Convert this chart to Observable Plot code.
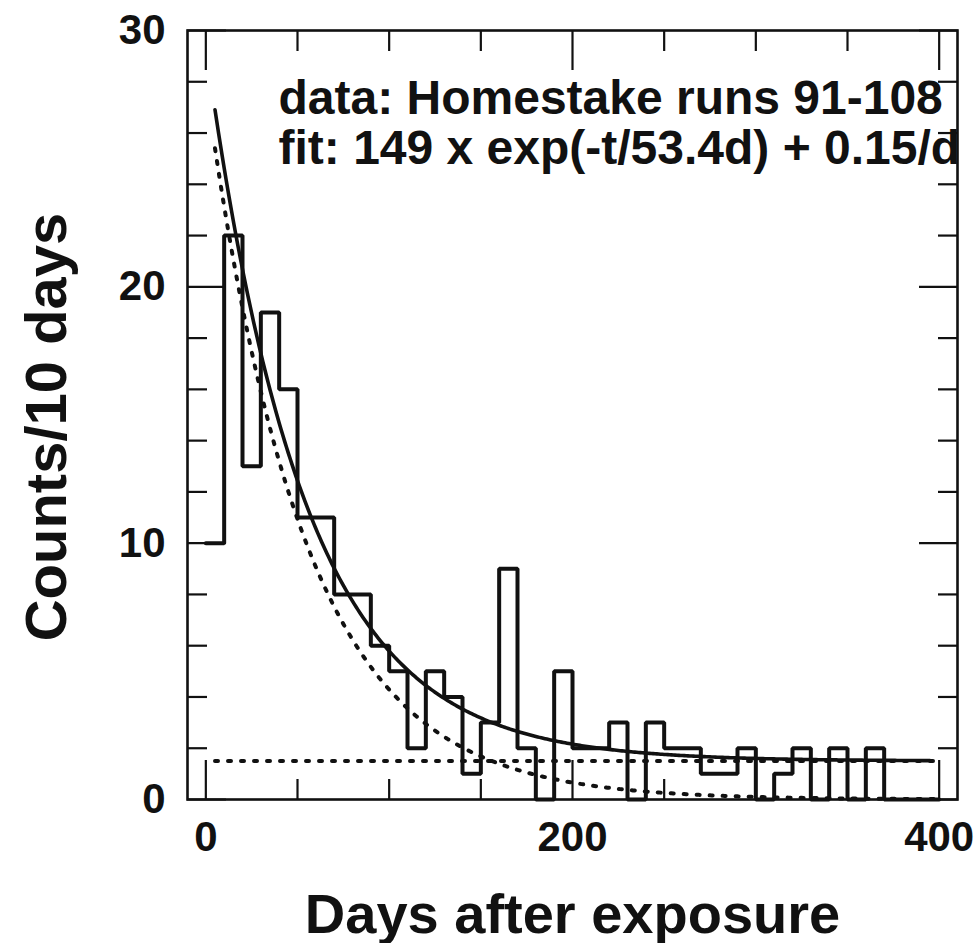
<!DOCTYPE html>
<html>
<head>
<meta charset="utf-8">
<script src="https://cdn.jsdelivr.net/npm/d3@7"></script>
<script src="https://cdn.jsdelivr.net/npm/@observablehq/plot@0.6"></script>
<style>
  html, body { margin: 0; padding: 0; background: #fff; }
</style>
</head>
<body>
<div id="chart"></div>
<script>
// ---- Data ----
const binLeft = [0,10,20,30,40,50,60,70,80,90,100,110,120,130,140,150,160,170,180,190,
                 200,210,220,230,240,250,260,270,280,290,300,310,320,330,340,350,360,370,380,390];
const binRightEnd = 400;
const counts = [10,22,13,19,16,11,11,8,8,6,5,2,5,4,1,3,9,2,0,5,
                2,2,3,0,3,2,2,1,1,2,0,1,2,0,2,0,2,0,0,0];

// Fit parameters stated on the chart: 149 x exp(-t/53.4d) + 0.15/d, per 10-day bin
const fitTotal = 149;
const fitTau = 53.4;
const fitBackgroundPerDay = 0.15;
const binDays = 10;
const fitStart = 5, fitEnd = 395, dottedEnd = 400;

const xMajorTicks = [0, 200, 400];
const xMinorTicks = [50, 100, 150, 250, 300, 350];
const yMajorTicks = [0, 10, 20, 30];
const yMinorTicks = [2,4,6,8,12,14,16,18,22,24,26,28];

const xTitle = "Days after exposure";
const yTitle = "Counts/10 days";
const noteLines = ["data: Homestake runs 91-108", "fit: 149 x exp(-t/53.4d) + 0.15/d"];

// ---- Derived tables ----
const hist = [...binLeft.map((x, i) => ({x, y: counts[i]})), {x: binRightEnd, y: counts[counts.length - 1]}];
const expPart = t => binDays * fitTotal / fitTau * Math.exp(-t / fitTau);
const bkg = binDays * fitBackgroundPerDay;
const tSolid = d3.range(fitStart, fitEnd + 0.5, 1);
const tDotted = d3.range(fitStart, dottedEnd + 0.5, 1);
const fitTotalCurve = tSolid.map(t => ({t, v: expPart(t) + bkg}));
const fitExpCurve = tDotted.map(t => ({t, v: expPart(t)}));
const fitBkgLine = [{t: fitStart, v: bkg}, {t: dottedEnd, v: bkg}];

const ink = "#111";
const font = "'Liberation Sans', Arial, Helvetica, sans-serif";
const tickW = 2.2;

const chart = Plot.plot({
  width: 980,
  height: 943,
  marginLeft: 187,
  marginRight: 23,
  marginTop: 30,
  marginBottom: 144,
  style: {fontFamily: font, fontWeight: "bold", color: ink, background: "#fff", overflow: "visible"},
  x: {domain: [-10, 410]},
  y: {domain: [0, 30]},
  marks: [
    // minor / major ticks, drawn inward on all four sides
    Plot.axisX({anchor: "bottom", ticks: xMinorTicks, tickSize: -20, tickFormat: () => "", label: null, strokeWidth: tickW, stroke: ink}),
    Plot.axisX({anchor: "bottom", ticks: xMajorTicks, tickSize: -39, tickFormat: () => "", label: null, strokeWidth: tickW, stroke: ink}),
    Plot.axisX({anchor: "top", ticks: xMinorTicks, tickSize: -20, tickFormat: () => "", label: null, strokeWidth: tickW, stroke: ink}),
    Plot.axisX({anchor: "top", ticks: xMajorTicks, tickSize: -39, tickFormat: () => "", label: null, strokeWidth: tickW, stroke: ink}),
    Plot.axisY({anchor: "left", ticks: yMinorTicks, tickSize: -20, tickFormat: () => "", label: null, strokeWidth: tickW, stroke: ink}),
    Plot.axisY({anchor: "left", ticks: yMajorTicks, tickSize: -39, tickFormat: () => "", label: null, strokeWidth: tickW, stroke: ink}),
    Plot.axisY({anchor: "right", ticks: yMinorTicks, tickSize: -20, tickFormat: () => "", label: null, strokeWidth: tickW, stroke: ink}),
    Plot.axisY({anchor: "right", ticks: yMajorTicks, tickSize: -39, tickFormat: () => "", label: null, strokeWidth: tickW, stroke: ink}),
    // tick labels
    Plot.axisX({anchor: "bottom", ticks: xMajorTicks, tickSize: 0, tickPadding: 22, fontSize: 42, fontWeight: "bold", fill: ink, label: null}),
    Plot.axisY({anchor: "left", ticks: yMajorTicks, tickSize: 0, tickPadding: 22, fontSize: 42, fontWeight: "bold", fill: ink, label: null}),
    // frame
    Plot.frame({stroke: ink, strokeWidth: 2.6}),
    // dotted components of the fit
    Plot.line(fitBkgLine, {x: "t", y: "v", stroke: ink, strokeWidth: 4, strokeDasharray: "3 10", strokeLinecap: "round"}),
    Plot.line(fitExpCurve, {x: "t", y: "v", stroke: ink, strokeWidth: 4, strokeDasharray: "3 10", strokeLinecap: "round"}),
    // histogram outline
    Plot.line(hist, {x: "x", y: "y", curve: "step-after", stroke: ink, strokeWidth: 4, strokeLinejoin: "miter"}),
    // total fit
    Plot.line(fitTotalCurve, {x: "t", y: "v", stroke: ink, strokeWidth: 3.6}),
    // annotation
    Plot.text([noteLines[0]], {frameAnchor: "top-left", text: d => d, dx: 91, dy: 83, lineAnchor: "bottom", textAnchor: "start", fontSize: 48, fontWeight: "bold", fill: ink}),
    Plot.text([noteLines[1]], {frameAnchor: "top-left", text: d => d, dx: 91, dy: 133, lineAnchor: "bottom", textAnchor: "start", fontSize: 48, fontWeight: "bold", fill: ink}),
    // axis titles
    Plot.text([xTitle], {frameAnchor: "bottom", text: d => d, dy: 133, lineAnchor: "bottom", textAnchor: "middle", fontSize: 56, fontWeight: "bold", fill: ink}),
    Plot.text([yTitle], {frameAnchor: "left", text: d => d, rotate: -90, dx: -140, dy: 12, lineAnchor: "middle", textAnchor: "middle", fontSize: 58, fontWeight: "bold", fill: ink})
  ]
});
document.getElementById("chart").appendChild(chart);
</script>
</body>
</html>
